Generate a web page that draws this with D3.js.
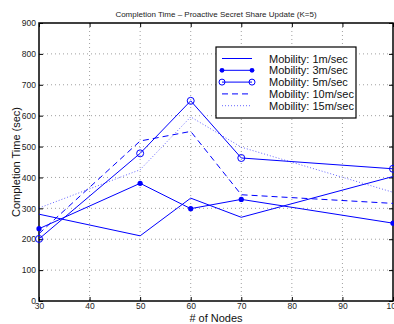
<!DOCTYPE html>
<html>
<head>
<meta charset="utf-8">
<script src="https://cdn.jsdelivr.net/npm/d3@7"></script>
<style>
  body { margin: 0; background: #fff; }
  svg { display: block; font-family: "Liberation Sans", Arial, sans-serif; }
</style>
</head>
<body>
<div id="chart"></div>
<script>
// Data
const nodes = [30, 50, 60, 70, 100];
const mob1 = [281, 211, 333, 271, 403];
const mob3 = [234, 381, 299, 329, 252];
const mob5 = [201, 478, 648, 463, 428];
const mob10 = [218, 518, 549, 344, 316];
const mob15 = [301, 425, 596, 498, 352];
const seriesNames = ["Mobility: 1m/sec", "Mobility: 3m/sec", "Mobility: 5m/sec", "Mobility: 10m/sec", "Mobility: 15m/sec"];
const xTicks = [30, 40, 50, 60, 70, 80, 90, 100];
const yTicks = [0, 100, 200, 300, 400, 500, 600, 700, 800, 900];

const W = 394, H = 324;
const margin = { top: 23, right: 1, bottom: 23, left: 39 };
const width = W - margin.left - margin.right;
const height = H - margin.top - margin.bottom;
const blue = "#0000ff";

const series = [
    { name: seriesNames[0], values: mob1, dash: null, marker: null, width: 1, opacity: 1 },
    { name: seriesNames[1], values: mob3, dash: null, marker: "dot", width: 1, opacity: 1 },
    { name: seriesNames[2], values: mob5, dash: null, marker: "circle", width: 1, opacity: 1 },
    { name: seriesNames[3], values: mob10, dash: "6,4", marker: null, width: 1, opacity: 1 },
    { name: seriesNames[4], values: mob15, dash: "1,2", marker: null, width: 1, opacity: 0.6 }
];

const svg = d3.select("#chart").append("svg")
    .attr("width", W)
    .attr("height", H);

const g = svg.append("g")
    .attr("transform", `translate(${margin.left},${margin.top})`);

const x = d3.scaleLinear().domain([30, 100]).range([0, width]);
const y = d3.scaleLinear().domain([0, 900]).range([height, 0]);

// Grid
g.append("g").selectAll("line").data(xTicks.slice(1, -1)).join("line")
    .attr("x1", d => x(d)).attr("x2", d => x(d))
    .attr("y1", 0).attr("y2", height)
    .attr("stroke", "#888").attr("stroke-width", 0.8).attr("stroke-dasharray", "1,3");
g.append("g").selectAll("line").data(yTicks.slice(1, -1)).join("line")
    .attr("x1", 0).attr("x2", width)
    .attr("y1", d => y(d)).attr("y2", d => y(d))
    .attr("stroke", "#888").attr("stroke-width", 0.8).attr("stroke-dasharray", "1,3");

// Axes (ticks point inward)
g.append("g")
    .attr("transform", `translate(0,${height})`)
    .call(d3.axisBottom(x).tickValues(xTicks).tickSizeInner(-4).tickSizeOuter(0).tickPadding(2))
    .call(a => a.select(".domain").remove())
    .call(a => a.selectAll("text").attr("font-size", 8.5).attr("fill", "#222").attr("font-family", "Liberation Sans, Arial, sans-serif"));
g.append("g")
    .call(d3.axisLeft(y).tickValues(yTicks).tickSizeInner(-4).tickSizeOuter(0).tickPadding(3))
    .call(a => a.select(".domain").remove())
    .call(a => a.selectAll("text").attr("font-size", 8.5).attr("fill", "#222").attr("font-family", "Liberation Sans, Arial, sans-serif"));
g.append("g")
    .attr("transform", `translate(${width},0)`)
    .call(d3.axisRight(y).tickValues(yTicks).tickSizeInner(-4).tickSizeOuter(0).tickFormat(""))
    .call(a => a.select(".domain").remove());
g.append("g")
    .call(d3.axisTop(x).tickValues(xTicks).tickSizeInner(-4).tickSizeOuter(0).tickFormat(""))
    .call(a => a.select(".domain").remove());

// Frame
g.append("rect")
    .attr("width", width).attr("height", height)
    .attr("fill", "none").attr("stroke", "#000").attr("stroke-width", 1.5);

// Lines
const line = d3.line().x((d, i) => x(nodes[i])).y(d => y(d));
series.forEach(s => {
    g.append("path")
        .datum(s.values)
        .attr("d", line)
        .attr("fill", "none")
        .attr("stroke", blue)
        .attr("stroke-width", s.width)
        .attr("stroke-opacity", s.opacity)
        .attr("stroke-dasharray", s.dash);
    if (s.marker === "dot") {
        g.selectAll(null).data(s.values).join("circle")
            .attr("cx", (d, i) => x(nodes[i])).attr("cy", d => y(d))
            .attr("r", 2.6).attr("fill", blue);
    } else if (s.marker === "circle") {
        g.selectAll(null).data(s.values).join("circle")
            .attr("cx", (d, i) => x(nodes[i])).attr("cy", d => y(d))
            .attr("r", 3.5).attr("fill", "none").attr("stroke", blue).attr("stroke-width", 1);
    }
});

// Legend
const lg = svg.append("g").attr("transform", "translate(216,47)");
lg.append("rect")
    .attr("width", 140).attr("height", 71)
    .attr("fill", "#fff").attr("stroke", "#000").attr("stroke-width", 1.2);
series.forEach((s, i) => {
    const ry = 11.5 + i * 11.8;
    lg.append("line")
        .attr("x1", 6).attr("x2", 36).attr("y1", ry).attr("y2", ry)
        .attr("stroke", blue).attr("stroke-width", s.width)
        .attr("stroke-opacity", s.opacity)
        .attr("stroke-dasharray", s.dash);
    if (s.marker === "dot") {
        [6, 36].forEach(mx => lg.append("circle").attr("cx", mx).attr("cy", ry).attr("r", 2.4).attr("fill", blue));
    } else if (s.marker === "circle") {
        [6, 36].forEach(mx => lg.append("circle").attr("cx", mx).attr("cy", ry).attr("r", 3)
            .attr("fill", "none").attr("stroke", blue));
    }
    lg.append("text")
        .attr("x", 53).attr("y", ry + 4)
        .attr("font-size", 11).attr("fill", "#111")
        .text(s.name);
});

// Titles
svg.append("text")
    .attr("x", margin.left + width / 2).attr("y", 17)
    .attr("text-anchor", "middle").attr("font-size", 8).attr("fill", "#222")
    .text("Completion Time \u2013 Proactive Secret Share Update (K=5)");
svg.append("text")
    .attr("x", margin.left + width / 2).attr("y", 322)
    .attr("text-anchor", "middle").attr("font-size", 11).attr("fill", "#111")
    .text("# of Nodes");
svg.append("text")
    .attr("transform", `translate(20,${margin.top + height / 2}) rotate(-90)`)
    .attr("text-anchor", "middle").attr("font-size", 11).attr("fill", "#111")
    .text("Completion Time (sec)");
</script>
</body>
</html>
